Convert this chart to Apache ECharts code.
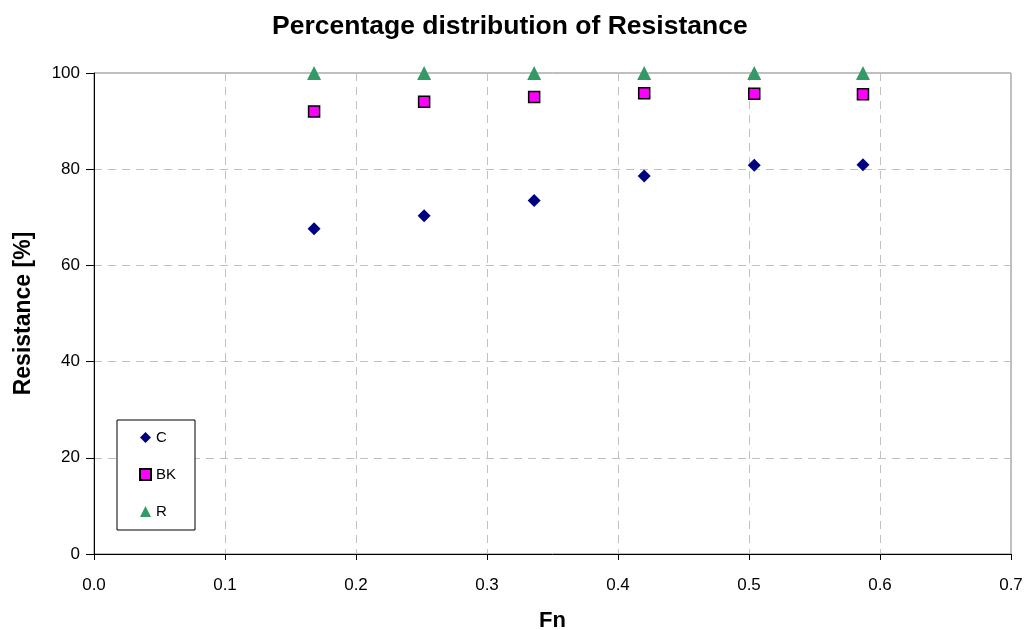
<!DOCTYPE html>
<html><head><meta charset="utf-8">
<script src="https://cdn.jsdelivr.net/npm/echarts@6/dist/echarts.min.js"></script>
<style>html,body{margin:0;padding:0;background:#fff}#c{width:1029px;height:630px}</style>
</head><body><div id="c"></div>
<script>
const fn = [0.168, 0.252, 0.336, 0.420, 0.504, 0.587];
const cVals = [67.6, 70.3, 73.5, 78.6, 80.8, 80.9];
const bkVals = [92.0, 94.0, 95.0, 95.8, 95.7, 95.6];
const rVals = [100, 100, 100, 100, 100, 100];
const pairs = (xs, ys) => xs.map((x, i) => [x, ys[i]]);
const chart = echarts.init(document.getElementById('c'));
const F = 'Arial, "Liberation Sans", sans-serif';
chart.setOption({
  animation: false,
  title: { text: 'Percentage distribution of Resistance', left: 267, top: 8,
    textStyle: { fontFamily: F, fontSize: 26.5, fontWeight: 'bold', color: '#000' } },
  grid: { left: 94, right: 18, top: 73, bottom: 76, show: true, borderColor: '#808080', borderWidth: 1,
    outerBoundsMode: 'none', containLabel: false },
  legend: {
    orient: 'vertical', left: 117, top: 420,
    padding: [10, 19, 11, 22], itemGap: 22, itemWidth: 11, itemHeight: 11,
    borderColor: '#000', borderWidth: 1, backgroundColor: '#fff',
    textStyle: { fontFamily: F, fontSize: 15, color: '#000', lineHeight: 15 },
    data: ['C', 'BK', 'R']
  },
  xAxis: {
    type: 'value', min: 0, max: 0.7, interval: 0.1,
    name: 'Fn', nameLocation: 'middle', nameGap: 56,
    nameTextStyle: { fontFamily: F, fontSize: 22, fontWeight: 'bold', color: '#000' },
    axisLine: { lineStyle: { color: '#000' } },
    axisTick: { show: true, length: 6, lineStyle: { color: '#000' } },
    axisLabel: { fontFamily: F, fontSize: 17, color: '#000', margin: 23, formatter: v => v.toFixed(1) },
    splitLine: { show: true, lineStyle: { color: '#c0c0c0', type: [8, 6] } }
  },
  yAxis: {
    type: 'value', min: 0, max: 100, interval: 20,
    name: 'Resistance [%]', nameLocation: 'middle', nameGap: 59,
    nameTextStyle: { fontFamily: F, fontSize: 23, fontWeight: 'bold', color: '#000' },
    axisLine: { show: true, lineStyle: { color: '#000' } },
    axisTick: { show: true, length: 8, lineStyle: { color: '#000' } },
    axisLabel: { fontFamily: F, fontSize: 17, color: '#000', margin: 14 },
    splitLine: { show: true, lineStyle: { color: '#c0c0c0', type: [8, 6] } }
  },
  series: [
    { name: 'C', type: 'scatter', data: pairs(fn, cVals), symbol: 'diamond', symbolSize: 13,
      itemStyle: { color: '#000080', opacity: 1 } },
    { name: 'BK', type: 'scatter', data: pairs(fn, bkVals), symbol: 'rect', symbolSize: 11,
      itemStyle: { color: '#ff00ff', borderColor: '#000', borderWidth: 1.5, opacity: 1 } },
    { name: 'R', type: 'scatter', data: pairs(fn, rVals), symbol: 'triangle', symbolSize: 14,
      itemStyle: { color: '#339966', opacity: 1 } }
  ]
});
</script></body></html>
